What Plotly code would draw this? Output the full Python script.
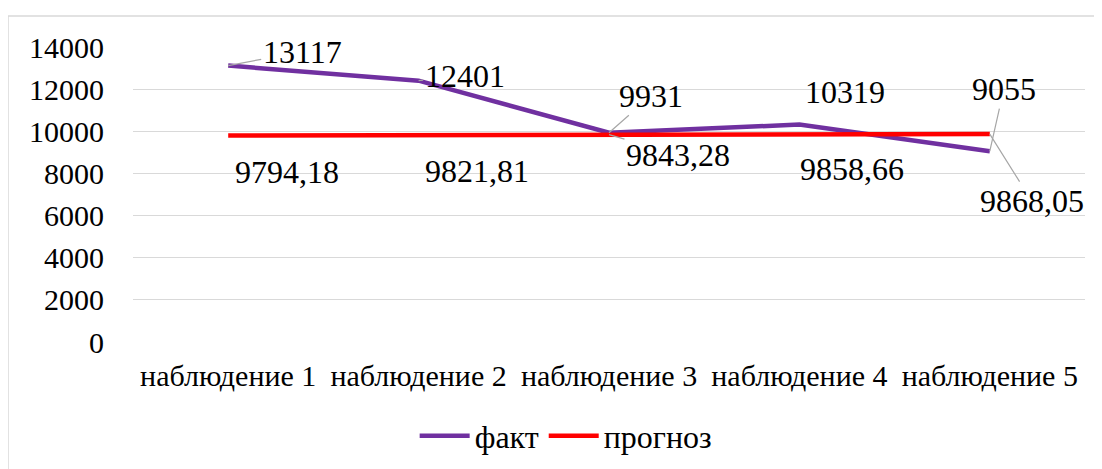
import plotly.graph_objects as go

categories = ["наблюдение 1", "наблюдение 2", "наблюдение 3", "наблюдение 4", "наблюдение 5"]
fakt = [13117, 12401, 9931, 10319, 9055]
prognoz = [9794.18, 9821.81, 9843.28, 9858.66, 9868.05]
y_ticks = [0, 2000, 4000, 6000, 8000, 10000, 12000, 14000]

# label offsets (px) and whether a leader line is drawn
fakt_offsets = [(74, -14, True), (46, -5, True), (42, -37, True), (46, -33, False), (14, -62, True)]
prognoz_offsets = [(59, 36, False), (58, 36, False), (69, 20, True), (53, 35, False), (42, 67, True)]

SERIF = "Liberation Serif, Times New Roman, serif"

fig = go.Figure()
fig.add_trace(go.Scatter(x=categories, y=fakt, mode="lines", name="факт",
                         line=dict(color="#7030A0", width=4.5)))
fig.add_trace(go.Scatter(x=categories, y=prognoz, mode="lines", name="прогноз",
                         line=dict(color="#FF0000", width=4.5)))

annotations = []
for cat, val, (ax, ay, lead) in zip(categories, fakt, fakt_offsets):
    annotations.append(dict(x=cat, y=val, text=str(val), ax=ax, ay=ay,
                            showarrow=True, arrowhead=0, arrowwidth=1.2,
                            arrowcolor="#A6A6A6" if lead else "rgba(0,0,0,0)",
                            font=dict(family=SERIF, size=32, color="#000")))
for cat, val, (ax, ay, lead) in zip(categories, prognoz, prognoz_offsets):
    annotations.append(dict(x=cat, y=val, text=f"{val:.2f}".replace(".", ","), ax=ax, ay=ay,
                            showarrow=True, arrowhead=0, arrowwidth=1.2,
                            arrowcolor="#A6A6A6" if lead else "rgba(0,0,0,0)",
                            font=dict(family=SERIF, size=32, color="#000")))

# page body has an 8px margin, so margins are shifted by it
fig.update_layout(
    width=1102, height=469,
    margin=dict(l=125, r=25, t=39, b=135, autoexpand=False),
    paper_bgcolor="white", plot_bgcolor="white",
    font=dict(family=SERIF, color="#000"),
    annotations=annotations,
    showlegend=True,
    legend=dict(orientation="h", x=0.455, xanchor="center", y=-0.225, yanchor="top",
                font=dict(family=SERIF, size=32, color="#000"), itemwidth=50),
    shapes=[dict(type="rect", xref="paper", yref="paper",
                 x0=(8 - 133) / 952, x1=(1110 - 133) / 952,
                 y0=(342 - 472) / 295, y1=(342 - 16) / 295,
                 line=dict(color="#D9D9D9", width=1.5), fillcolor="rgba(0,0,0,0)")],
)
fig.update_xaxes(range=[-0.5, 4.5], showgrid=False, showline=False, ticks="", automargin=False,
                 tickfont=dict(family=SERIF, size=30, color="#000"), ticklabelstandoff=13)
fig.update_yaxes(range=[0, 14000], tickvals=y_ticks, tickformat="d", showgrid=True,
                 gridcolor="#D9D9D9", gridwidth=1.3, zeroline=False, showline=False, ticks="",
                 automargin=False, tickfont=dict(family=SERIF, size=30, color="#000"),
                 ticklabelstandoff=28)

fig.write_html("out.html")
